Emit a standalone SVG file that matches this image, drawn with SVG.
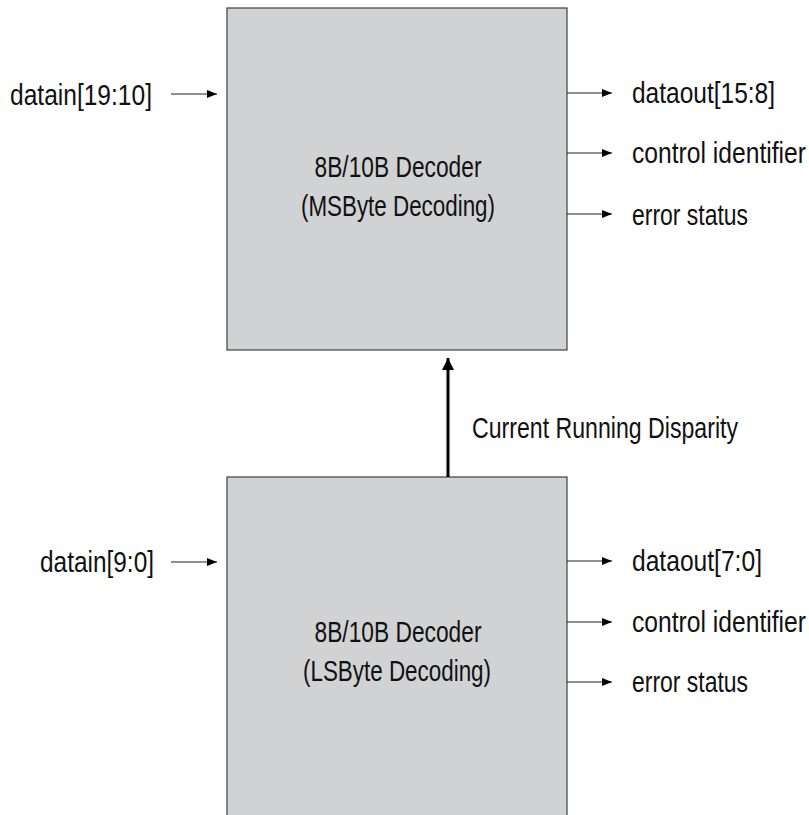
<svg xmlns="http://www.w3.org/2000/svg" width="809" height="815" viewBox="0 0 809 815">
  <style>
    .box { fill: #d1d2d4; stroke: #404040; stroke-width: 1.2; }
    .lbl { font-family: "Liberation Sans", Arial, sans-serif; font-size: 30px; fill: #111; }
    .mid { text-anchor: middle; }
    .wire { stroke: #222; stroke-width: 1.2; fill: none; marker-end: url(#ah); }
    .thick { stroke: #000; stroke-width: 3; fill: none; marker-end: url(#ahb); }
  </style>
  <defs>
    <marker id="ah" markerUnits="userSpaceOnUse" markerWidth="10" markerHeight="8" refX="10" refY="4" orient="auto">
      <path d="M0,0 L10,4 L0,8 Z" fill="#000"/>
    </marker>
    <marker id="ahb" markerUnits="userSpaceOnUse" markerWidth="12" markerHeight="12" refX="12" refY="6" orient="auto">
      <path d="M0,0 L12,6 L0,12 Z" fill="#000"/>
    </marker>
  </defs>
  <rect width="809" height="815" fill="#fff"/>

  <g id="msbyte-decoder">
    <rect class="box" x="227" y="8" width="340" height="342"/>
    <text class="lbl mid" transform="translate(398,177) scale(0.75,1)" textLength="222.7" lengthAdjust="spacingAndGlyphs">8B/10B Decoder</text>
    <text class="lbl mid" transform="translate(398,216) scale(0.75,1)" textLength="258.7" lengthAdjust="spacingAndGlyphs">(MSByte Decoding)</text>
  </g>

  <g id="lsbyte-decoder">
    <rect class="box" x="227" y="477" width="340" height="350"/>
    <text class="lbl mid" transform="translate(398,642) scale(0.75,1)" textLength="222.7" lengthAdjust="spacingAndGlyphs">8B/10B Decoder</text>
    <text class="lbl mid" transform="translate(397,681) scale(0.75,1)" textLength="250.7" lengthAdjust="spacingAndGlyphs">(LSByte Decoding)</text>
  </g>

  <g id="signal-labels">
    <text class="lbl" transform="translate(10,105) scale(0.75,1)" textLength="189.3" lengthAdjust="spacingAndGlyphs">datain[19:10]</text>
    <text class="lbl" transform="translate(40,572) scale(0.75,1)" textLength="152" lengthAdjust="spacingAndGlyphs">datain[9:0]</text>
    <text class="lbl" transform="translate(632,103) scale(0.75,1)" textLength="190.7" lengthAdjust="spacingAndGlyphs">dataout[15:8]</text>
    <text class="lbl" transform="translate(632,163) scale(0.75,1)" textLength="232" lengthAdjust="spacingAndGlyphs">control identifier</text>
    <text class="lbl" transform="translate(632,225) scale(0.75,1)" textLength="154.7" lengthAdjust="spacingAndGlyphs">error status</text>
    <text class="lbl" transform="translate(632,571) scale(0.75,1)" textLength="173.3" lengthAdjust="spacingAndGlyphs">dataout[7:0]</text>
    <text class="lbl" transform="translate(632,632) scale(0.75,1)" textLength="232" lengthAdjust="spacingAndGlyphs">control identifier</text>
    <text class="lbl" transform="translate(632,692) scale(0.75,1)" textLength="154.7" lengthAdjust="spacingAndGlyphs">error status</text>
    <text class="lbl" transform="translate(472,438) scale(0.75,1)" textLength="354.7" lengthAdjust="spacingAndGlyphs">Current Running Disparity</text>
  </g>

  <g id="connectors">
    <line class="wire" x1="171" y1="94" x2="217" y2="94"/>
    <line class="wire" x1="171" y1="562" x2="217" y2="562"/>
    <line class="wire" x1="567" y1="93" x2="612" y2="93"/>
    <line class="wire" x1="567" y1="153" x2="612" y2="153"/>
    <line class="wire" x1="567" y1="214" x2="612" y2="214"/>
    <line class="wire" x1="567" y1="561" x2="612" y2="561"/>
    <line class="wire" x1="567" y1="622" x2="612" y2="622"/>
    <line class="wire" x1="567" y1="682" x2="612" y2="682"/>
    <line class="thick" x1="448" y1="477" x2="448" y2="358"/>
  </g>
</svg>
